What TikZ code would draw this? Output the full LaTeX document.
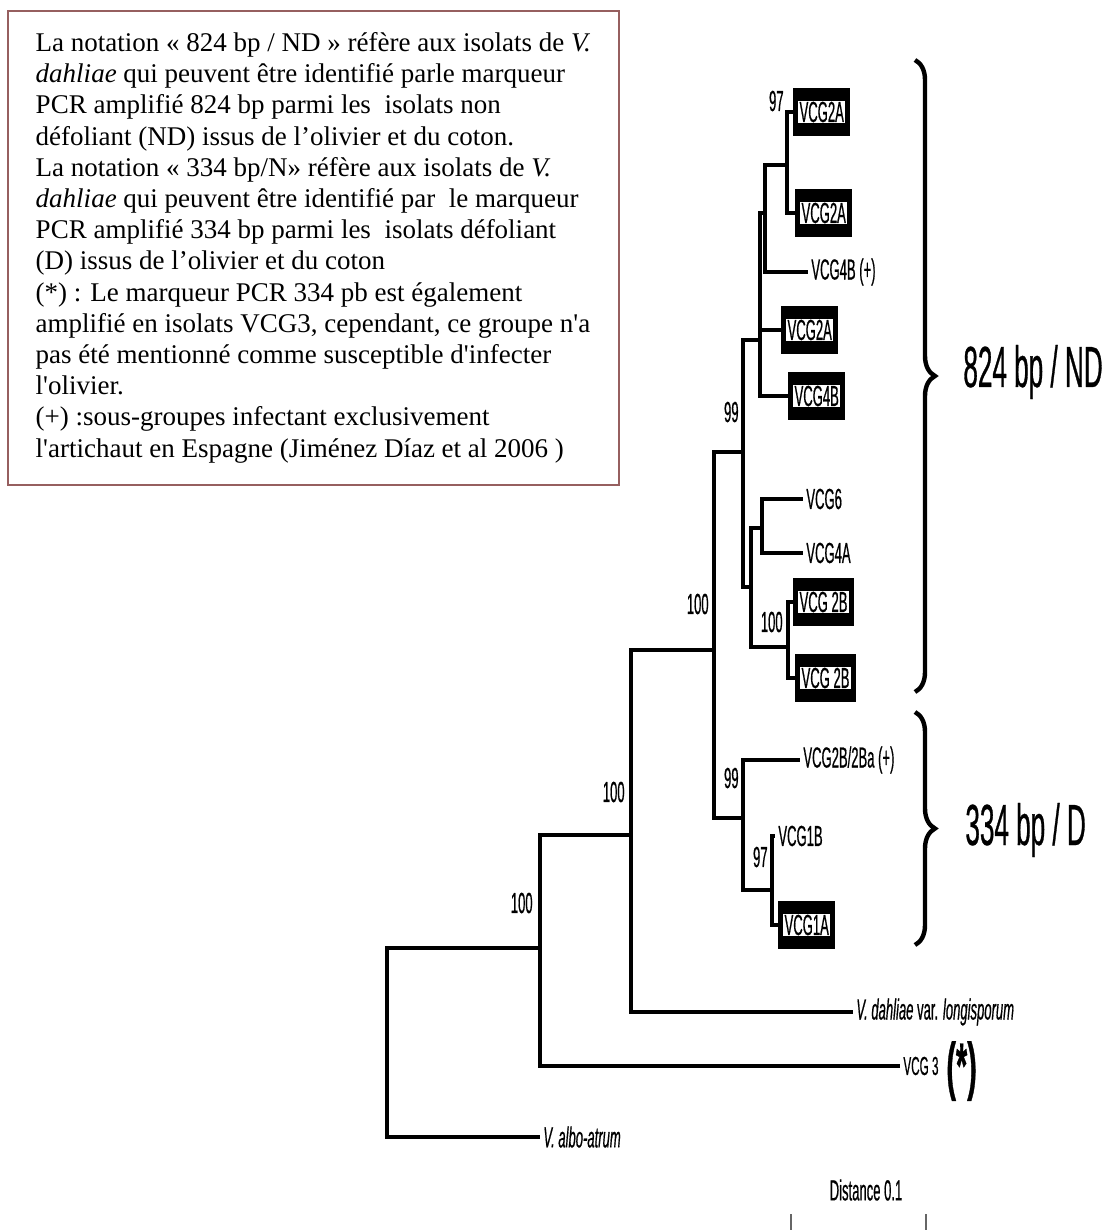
\documentclass[tikz,border=0pt]{standalone}
\usepackage{fontspec}
\usepackage{xcolor}
\usepackage{tikz}
\usetikzlibrary{decorations.pathreplacing}
\newfontfamily\notefont{Liberation Serif}
\newfontfamily\treefont[FakeStretch=0.45, FakeBold=0.5]{Liberation Sans}
\definecolor{noteedge}{RGB}{150,95,95}
\newcommand{\boxtip}[1]{\setlength{\fboxsep}{0.6pt}\colorbox{white}{#1}}

\begin{document}
\begin{tikzpicture}[
  x=0.5pt, y=-0.5pt,
  branch/.style={line width=2pt},
  tiplabel/.style={anchor=west, inner sep=1.5pt, font=\treefont\fontsize{14.5}{16}\selectfont},
  boxlabel/.style={anchor=west, fill=black, inner xsep=2.5pt, inner ysep=6.5pt, font=\treefont\fontsize{14.5}{16}\selectfont},
  bootlabel/.style={anchor=east, inner sep=1pt, font=\treefont\fontsize{14.5}{16}\selectfont},
  grouplabel/.style={anchor=west, inner sep=0pt, font=\treefont\fontsize{29}{32}\selectfont},
  groupbrace/.style={decorate, decoration={brace, amplitude=10pt}, line width=2.2pt},
  notebox/.style={draw=noteedge, line width=0.8pt, anchor=north west, minimum width=305.5pt, minimum height=237pt, align=left, font=\notefont\fontsize{13.5}{15.6}\selectfont},
  scaletick/.style={draw=gray!80!black, line width=0.8pt}
]
\useasboundingbox (0,0) rectangle (1110,1230);
\node[notebox] (legend) at (7,10) {La notation « 824 bp / ND » réfère aux isolats de \textit{V.}\\\textit{dahliae} qui peuvent être identifié parle marqueur\\PCR amplifié 824 bp parmi les\ \ isolats non\\défoliant (ND) issus de l’olivier et du coton.\\La notation « 334 bp/N» réfère aux isolats de \textit{V.}\\\textit{dahliae} qui peuvent être identifié par\ \ le marqueur\\PCR amplifié 334 bp parmi les\ \ isolats défoliant\\(D) issus de l’olivier et du coton\\(*) : Le marqueur PCR 334 pb est également\\amplifié en isolats VCG3, cependant, ce groupe n'a\\pas été mentionné comme susceptible d'infecter\\l'olivier.\\(+) :sous-groupes infectant exclusivement\\l'artichaut en Espagne (Jiménez Díaz et al 2006 )};
\coordinate (root) at (387,1042);
\coordinate (nZ) at (540,948);
\coordinate (nY) at (631,835);
\coordinate (nX) at (714,650);
\coordinate (nU) at (743,452);
\coordinate (nW) at (743,818);
\coordinate (nP) at (760,340);
\coordinate (nQ) at (765,213);
\coordinate (n97) at (787,165);
\coordinate (nT) at (751,587);
\coordinate (nR) at (762,528);
\coordinate (nS) at (788,647);
\coordinate (nV) at (772,890);
\node[boxlabel] (vcgA1) at (793,112) {\boxtip{VCG2A}};
\node[boxlabel] (vcgA2) at (795,213) {\boxtip{VCG2A}};
\node[tiplabel] (vcgBplus) at (808,272) {VCG4B (+)};
\node[boxlabel] (vcgA3) at (781,330) {\boxtip{VCG2A}};
\node[boxlabel] (vcgB) at (788,396) {\boxtip{VCG4B}};
\node[tiplabel] (vcgsix) at (803,499) {VCG6};
\node[tiplabel] (vcgfourA) at (803,553) {VCG4A};
\node[boxlabel] (vcgtwoB1) at (793,602) {\boxtip{VCG 2B}};
\node[boxlabel] (vcgtwoB2) at (795,678) {\boxtip{VCG 2B}};
\node[tiplabel] (vcgtwoBa) at (800,760) {VCG2B/2Ba (+)};
\node[tiplabel] (vcgoneB) at (775,836) {VCG1B};
\node[boxlabel] (vcgoneA) at (778,925) {\boxtip{VCG1A}};
\node[tiplabel] (longi) at (853,1012) {\textit{V. dahliae} var. \textit{longisporum}};
\node[tiplabel, font=\treefont\fontsize{13}{14}\selectfont] (vcgthree) at (900,1066) {VCG 3};
\node[anchor=west, inner sep=0pt, font=\treefont\bfseries\fontsize{32}{34}\selectfont] (star) at (946,1071) {(*)};
\node[tiplabel] (albo) at (540,1137) {\textit{V. albo-atrum}};
\node[bootlabel] (bsA) at (786,101) {97};
\node[bootlabel] (bsB) at (741,412) {99};
\node[bootlabel] (bsC) at (785,622) {100};
\node[bootlabel] (bsD) at (741,778) {99};
\node[bootlabel] (bsE) at (770,857) {97};
\node[bootlabel] (bsF) at (711,604) {100};
\node[bootlabel] (bsG) at (627,792) {100};
\node[bootlabel] (bsH) at (535,903) {100};
\draw[branch] (root) |- (nZ);
\draw[branch] (root) |- (albo.west);
\draw[branch] (nZ) |- (nY);
\draw[branch] (nZ) |- (vcgthree.west);
\draw[branch] (nY) |- (nX);
\draw[branch] (nY) |- (longi.west);
\draw[branch] (nX) |- (nU);
\draw[branch] (nX) |- (nW);
\draw[branch] (nU) |- (nP);
\draw[branch] (nU) |- (nT);
\draw[branch] (nP) |- (nQ);
\draw[branch] (nP) |- (vcgA3.west);
\draw[branch] (nP) |- (vcgB.west);
\draw[branch] (nQ) |- (n97);
\draw[branch] (nQ) |- (vcgBplus.west);
\draw[branch] (n97) |- (vcgA1.west);
\draw[branch] (n97) |- (vcgA2.west);
\draw[branch] (nT) |- (nR);
\draw[branch] (nT) |- (nS);
\draw[branch] (nR) |- (vcgsix.west);
\draw[branch] (nR) |- (vcgfourA.west);
\draw[branch] (nS) |- (vcgtwoB1.west);
\draw[branch] (nS) |- (vcgtwoB2.west);
\draw[branch] (nW) |- (vcgtwoBa.west);
\draw[branch] (nW) |- (nV);
\draw[branch] (nV) |- (vcgoneB.west);
\draw[branch] (nV) |- (vcgoneA.west);
\coordinate (bNDtop) at (915,60);
\coordinate (bNDbot) at (915,692);
\coordinate (bDtop) at (915,712);
\coordinate (bDbot) at (915,945);
\draw[groupbrace] (bNDtop) -- (bNDbot);
\draw[groupbrace] (bDtop) -- (bDbot);
\node[grouplabel] (nd) at (963,372) {824 bp / ND};
\node[grouplabel] (dd) at (965,830) {334 bp / D};
\node[bootlabel, anchor=center] (dist) at (866,1190) {Distance 0.1};
\draw[scaletick] (791,1214) -- (791,1230);
\draw[scaletick] (926,1214) -- (926,1230);
\end{tikzpicture}
\end{document}
